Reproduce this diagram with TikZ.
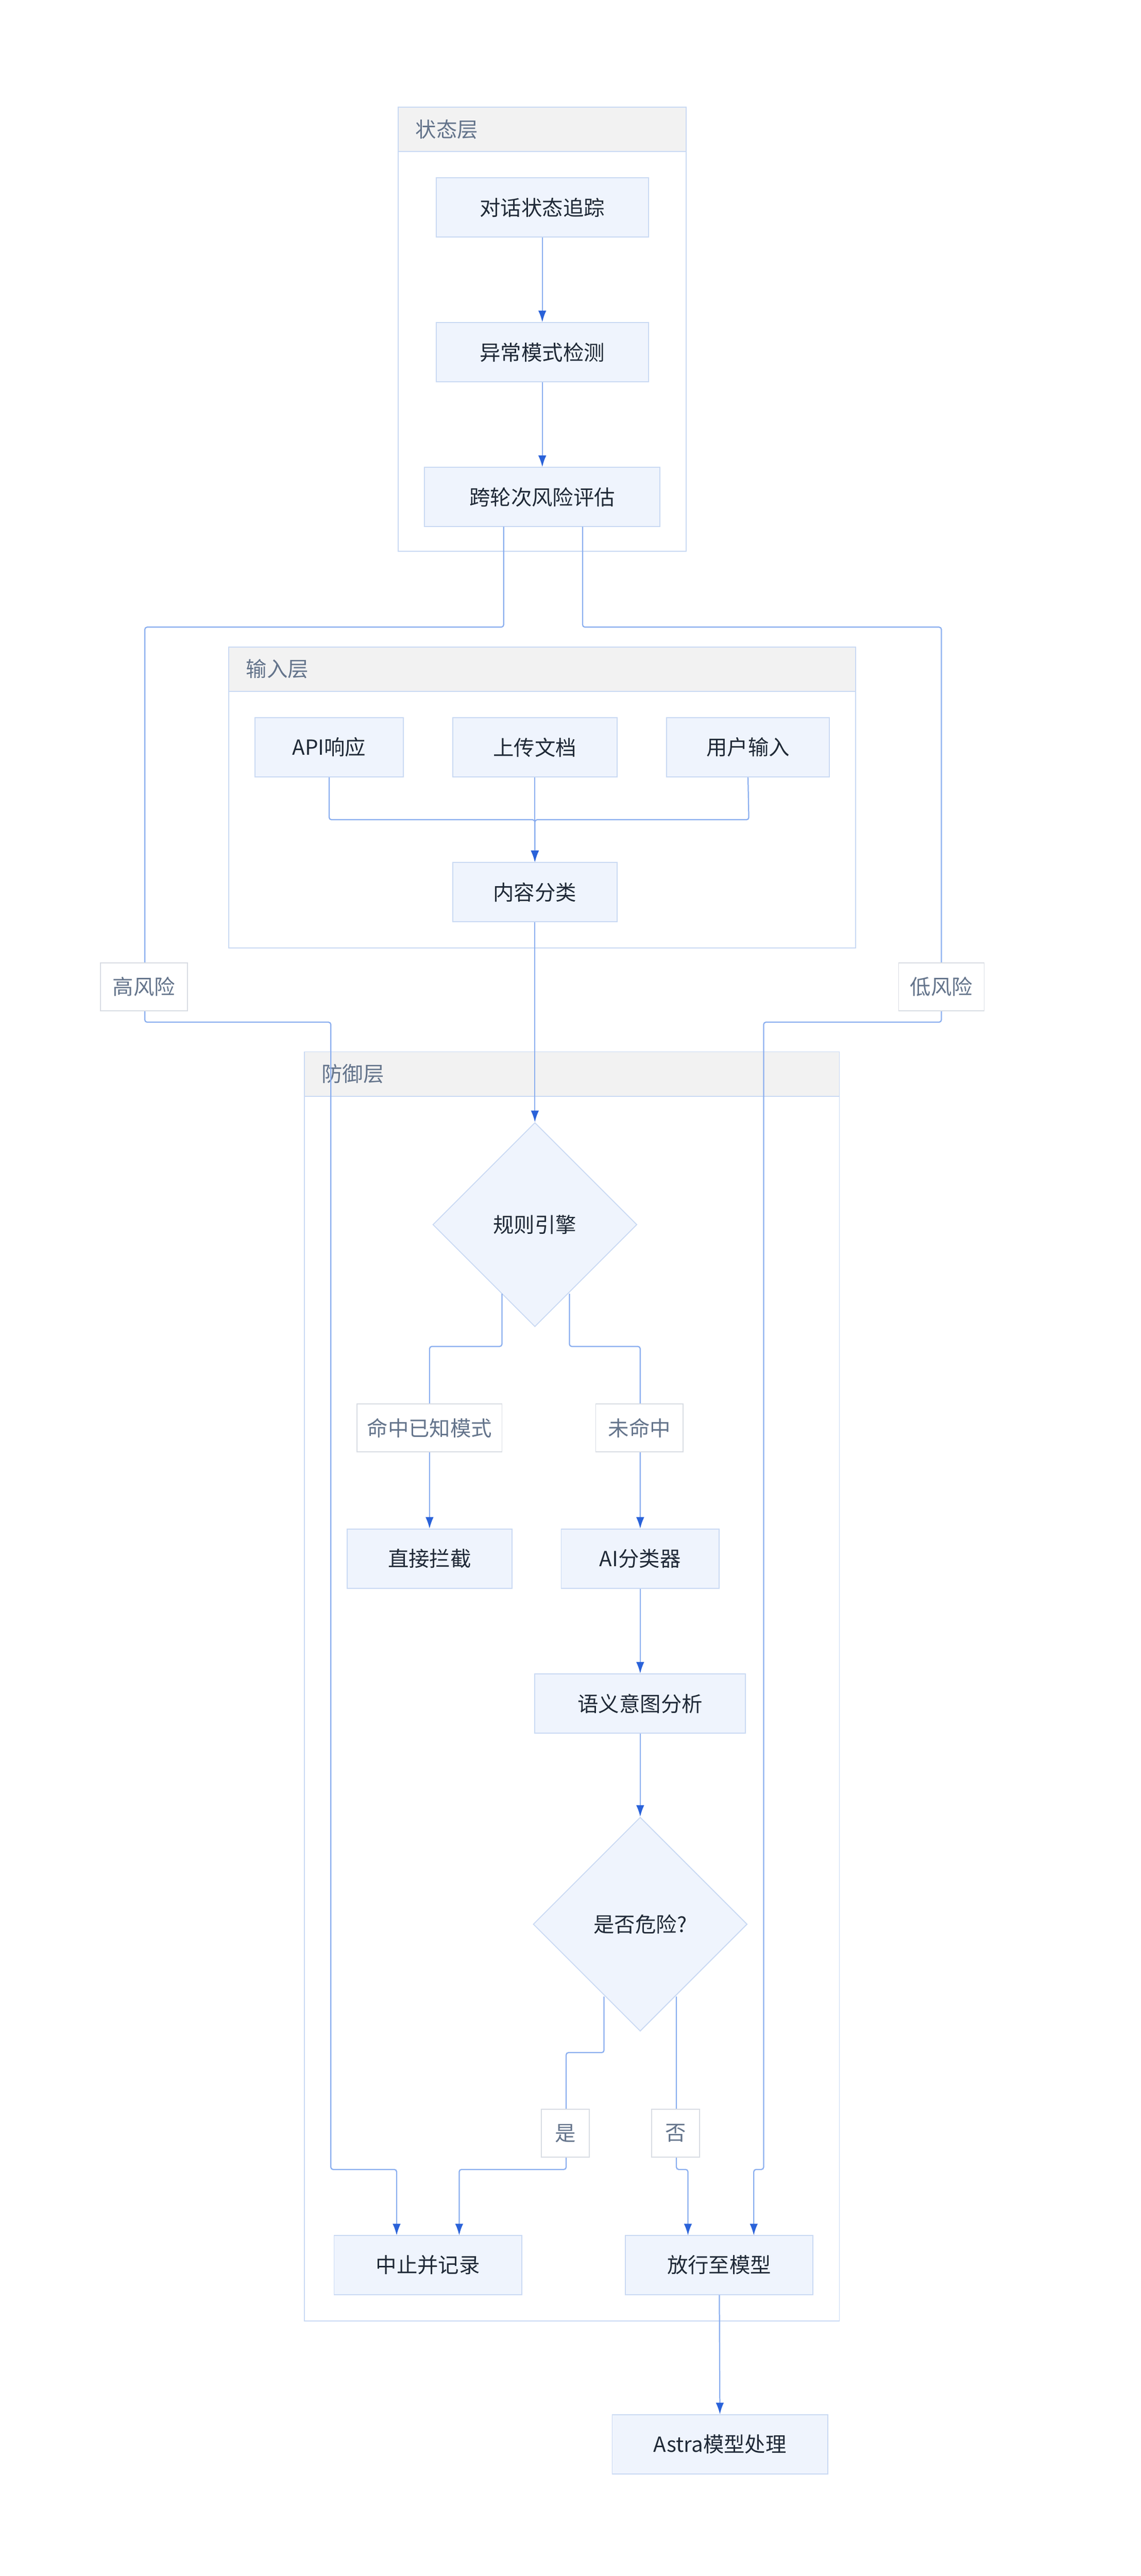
\documentclass[tikz,border=0pt]{standalone}
\usepackage{fontspec}
\setmainfont{Noto Sans CJK SC}
\usetikzlibrary{shapes.geometric,arrows.meta}
\definecolor{nfill}{HTML}{EFF4FD}
\definecolor{nline}{HTML}{C9D9F3}
\definecolor{hfill}{HTML}{F2F2F2}
\definecolor{ttl}{HTML}{64748B}
\definecolor{txt}{HTML}{1F2937}
\definecolor{eline}{HTML}{8AAEEF}
\definecolor{ehead}{HTML}{2A62D9}
\definecolor{lline}{HTML}{D8DCE3}
\begin{document}
\begin{tikzpicture}[x=0.05cm,y=-0.05cm,
  font=\fontsize{18}{22}\selectfont,
  box/.style={draw=nline,line width=0.8pt,fill=nfill,text=txt,inner sep=0,minimum height=36*0.05cm},
  dia/.style={diamond,aspect=1,draw=nline,line width=0.8pt,fill=nfill,text=txt,inner sep=0},
  lab/.style={draw=lline,line width=0.8pt,fill=white,text=ttl,inner sep=0,minimum height=29*0.05cm},
  clu/.style={draw=nline,line width=0.8pt,fill=white},
  hdr/.style={draw=nline,line width=0.8pt,fill=hfill},
  ttlt/.style={text=ttl,anchor=west},
  e/.style={draw=eline,line width=1pt,rounded corners=2pt,-{Latex[length=10pt,width=7pt,color=ehead]}},
  l/.style={draw=eline,line width=1pt,rounded corners=2pt}]
\useasboundingbox (0,0) rectangle (693,1565);
% clusters
\draw[clu] (242,65) rectangle (417,335); \draw[hdr] (242,65) rectangle (417,92);
\node[ttlt] (t1) at (250,78.5) {状态层};
\draw[clu] (139,393) rectangle (520,576); \draw[hdr] (139,393) rectangle (520,420);
\node[ttlt] (t2) at (147,406.5) {输入层};
\draw[clu] (185,639) rectangle (510,1410); \draw[hdr] (185,639) rectangle (510,666);
\node[ttlt] (t3) at (193,652.5) {防御层};
% nodes
\node[box,minimum width=129*0.05cm] (s1) at (329.5,126) {对话状态追踪};
\node[box,minimum width=129*0.05cm] (s2) at (329.5,214) {异常模式检测};
\node[box,minimum width=143*0.05cm] (s3) at (329.5,302) {跨轮次风险评估};
\node[box,minimum width=90*0.05cm] (i1) at (200,454) {API响应};
\node[box,minimum width=100*0.05cm] (i2) at (325,454) {上传文档};
\node[box,minimum width=99*0.05cm] (i3) at (454.5,454) {用户输入};
\node[box,minimum width=100*0.05cm] (i4) at (325,542) {内容分类};
\node[dia,minimum size=124*0.05cm] (d1) at (325,744) {规则引擎};
\node[box,minimum width=100*0.05cm] (blk) at (261,947) {直接拦截};
\node[box,minimum width=96*0.05cm] (ai) at (389,947) {AI分类器};
\node[box,minimum width=128*0.05cm] (sem) at (389,1035) {语义意图分析};
\node[dia,minimum size=130*0.05cm] (d2) at (389,1169) {是否危险?};
\node[box,minimum width=114*0.05cm] (stop) at (260,1376) {中止并记录};
\node[box,minimum width=114*0.05cm] (pass) at (437,1376) {放行至模型};
\node[box,minimum width=131*0.05cm] (astra) at (437.5,1485) {Astra模型处理};
% edges
\draw[e] (s1) -- (s2);
\draw[e] (s2) -- (s3);
\draw[e] (306,320) -- (306,381) -- (88,381) -- (88,621) -- (201,621) -- (201,1318) -- (241,1318) -- (241,1358);
\draw[e] (354,320) -- (354,381) -- (572,381) -- (572,621) -- (464,621) -- (464,1318) -- (458,1318) -- (458,1358);
\draw[e] (i1.south) -- (200,498) -- (325,498) -- (i4.north);
\draw[e] (i2) -- (i4);
\draw[e] (i3.south) -- (455,498) -- (325,498) -- (i4.north);
\draw[e] (i4) -- (d1.north);
\draw[e] (305,786) -- (305,818) -- (261,818) -- (blk.north);
\draw[e] (346,786) -- (346,818) -- (389,818) -- (ai.north);
\draw[e] (ai) -- (sem);
\draw[e] (sem) -- (d2.north);
\draw[e] (367,1213) -- (367,1247) -- (344,1247) -- (344,1318) -- (279,1318) -- (279,1358);
\draw[e] (411,1213) -- (411,1318) -- (418,1318) -- (418,1358);
\draw[e] (pass) -- (astra);
% labels
\node[lab,minimum width=53*0.05cm] (lh) at (87.5,599.5) {高风险};
\node[lab,minimum width=52*0.05cm] (ll) at (572,599.5) {低风险};
\node[lab,minimum width=88*0.05cm] (lk) at (261,867.5) {命中已知模式};
\node[lab,minimum width=53*0.05cm] (lm) at (388.5,867.5) {未命中};
\node[lab,minimum width=29*0.05cm] (ly) at (343.5,1296) {是};
\node[lab,minimum width=29*0.05cm] (ln) at (410.5,1296) {否};
\end{tikzpicture}
\end{document}
